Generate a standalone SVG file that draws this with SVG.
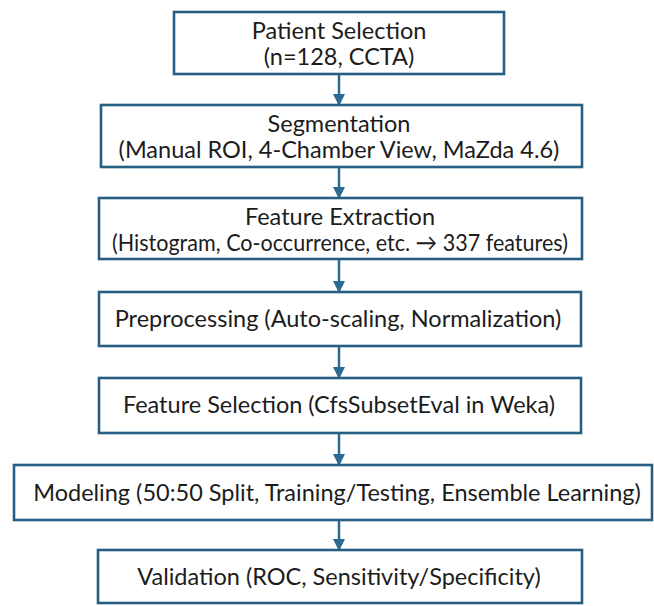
<svg xmlns="http://www.w3.org/2000/svg" width="654" height="606" viewBox="0 0 654 606">
<defs>
<style>
.box{fill:#ffffff;stroke:#275f84;stroke-width:2.6}
.t{font-family:Lato,"Open Sans","Liberation Sans",sans-serif;font-size:23.5px;fill:#1c1c1c;text-anchor:middle}
.c{stroke:#2b6a92;stroke-width:2.5;fill:none}
</style>
<marker id="ah" markerWidth="12" markerHeight="12" refX="10" refY="6" orient="auto" markerUnits="userSpaceOnUse" viewBox="0 0 12 12">
<path d="M0,0 L12,6 L0,12 Z" fill="#2b6a92"/>
</marker>
</defs>
<rect width="654" height="606" fill="#ffffff"/>
<g id="connectors">
<line class="c" x1="339" y1="74" x2="339" y2="104" marker-end="url(#ah)"/>
<line class="c" x1="339" y1="167" x2="339" y2="197" marker-end="url(#ah)"/>
<line class="c" x1="339" y1="259" x2="339" y2="291" marker-end="url(#ah)"/>
<line class="c" x1="339" y1="346" x2="339" y2="377" marker-end="url(#ah)"/>
<line class="c" x1="339" y1="433" x2="339" y2="464" marker-end="url(#ah)"/>
<line class="c" x1="339" y1="520" x2="339" y2="549" marker-end="url(#ah)"/>
</g>
<g id="patient-selection">
<rect class="box" x="174" y="12" width="330" height="62"/>
<text class="t" x="339" y="39">Patient Selection</text>
<text class="t" x="339" y="65">(n=128, CCTA)</text>
</g>
<g id="segmentation">
<rect class="box" x="101" y="105" width="481" height="62"/>
<text class="t" x="339" y="132">Segmentation</text>
<text class="t" x="339" y="158">(Manual ROI, 4-Chamber View, MaZda 4.6)</text>
</g>
<g id="feature-extraction">
<rect class="box" x="99" y="198" width="483" height="61"/>
<text class="t" x="340" y="225">Feature Extraction</text>
<text class="t" x="340" y="251" textLength="456" lengthAdjust="spacingAndGlyphs">(Histogram, Co-occurrence, etc. → 337 features)</text>
</g>
<g id="preprocessing">
<rect class="box" x="99" y="292" width="482" height="54"/>
<text class="t" x="338" y="327">Preprocessing (Auto-scaling, Normalization)</text>
</g>
<g id="feature-selection">
<rect class="box" x="99" y="378" width="482" height="55"/>
<text class="t" x="339" y="413">Feature Selection (CfsSubsetEval in Weka)</text>
</g>
<g id="modeling">
<rect class="box" x="14" y="465" width="638" height="55"/>
<text class="t" x="337" y="501">Modeling (50:50 Split, Training/Testing, Ensemble Learning)</text>
</g>
<g id="validation">
<rect class="box" x="98" y="550" width="484" height="53"/>
<text class="t" x="339" y="585">Validation (ROC, Sensitivity/Specificity)</text>
</g>
</svg>
